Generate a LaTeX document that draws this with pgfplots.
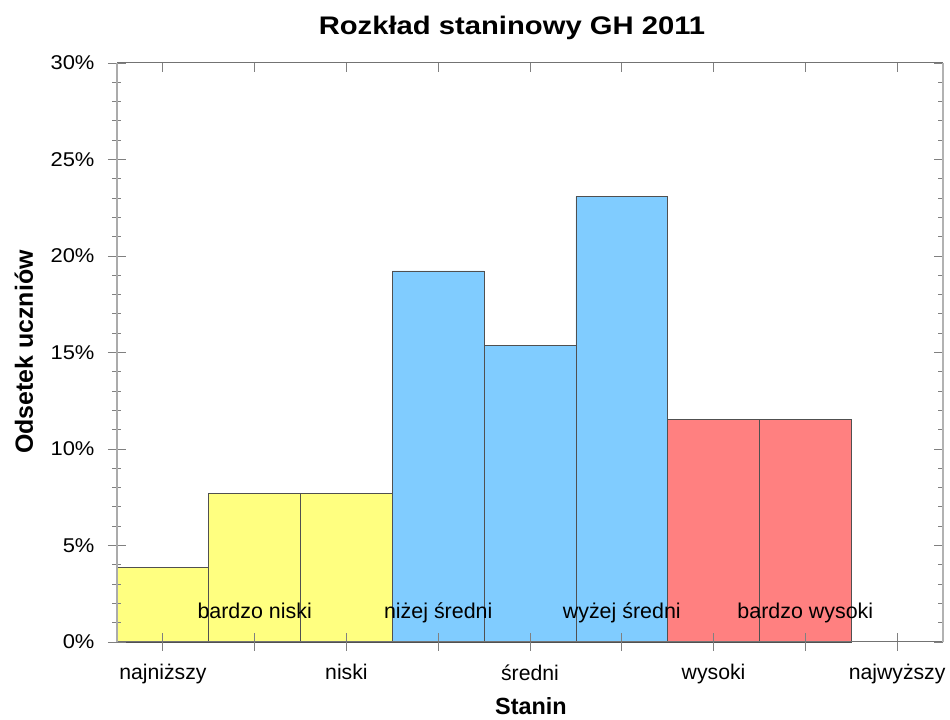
\documentclass[border=0pt]{standalone}
\usepackage{fontspec}
\setmainfont{Liberation Sans}
\newfontfamily\widefont{Liberation Sans}[FakeStretch=1.15]
\newfontfamily\tickfont{Liberation Sans}[FakeStretch=1.1]
\usepackage{pgfplots}
\pgfplotsset{compat=1.18}
\definecolor{cyel}{HTML}{FFFF80}
\definecolor{cblu}{HTML}{80CCFF}
\definecolor{cred}{HTML}{FF8080}
\definecolor{edge}{HTML}{505050}
\begin{document}
\begin{tikzpicture}[x=1bp,y=1bp]
\path[use as bounding box] (-117,-78) rectangle (833,642);
\begin{axis}[
  at={(0,0)}, anchor=south west, scale only axis,
  width=826bp, height=579bp,
  xmin=0.5, xmax=9.5, ymin=0, ymax=30,
  axis x line*=bottom, axis y line*=left,
  axis line style={-},
  x axis line style={draw=black!55, line width=1bp},
  y axis line style={draw=black!33, line width=2bp},
  tick align=center,
  major tick length=18bp, minor tick length=9bp,
  tick style={draw=black!50, line width=0.8bp},
  xtick={1,...,9},
  xticklabels={najniższy,{},niski,{},średni,{},wysoki,{},najwyższy},
  ytick={0,5,...,30},
  yticklabels={0\%,5\%,10\%,15\%,20\%,25\%,30\%},
  minor y tick num=4,
  xticklabel style={font=\fontsize{21.3}{24}\selectfont, yshift=-10bp},
  yticklabel style={font=\tickfont\fontsize{20}{24}\selectfont, xshift=-10bp},
  axis on top,
  clip=false,
]
\addplot[ybar, bar width=1, bar shift=0, fill=cyel, draw=edge, line width=0.7bp]
  coordinates {(1,3.85) (2,7.69) (3,7.69)};
\addplot[ybar, bar width=1, bar shift=0, fill=cblu, draw=edge, line width=0.7bp]
  coordinates {(4,19.23) (5,15.38) (6,23.08)};
\addplot[ybar, bar width=1, bar shift=0, fill=cred, draw=edge, line width=0.7bp]
  coordinates {(7,11.54) (8,11.54)};
\node[anchor=base, font=\fontsize{21.5}{24}\selectfont] at (axis cs:2,1.24) {bardzo niski};
\node[anchor=base, font=\fontsize{21.5}{24}\selectfont] at (axis cs:4,1.24) {niżej średni};
\node[anchor=base, font=\fontsize{21.5}{24}\selectfont] at (axis cs:6,1.24) {wyżej średni};
\node[anchor=base, font=\fontsize{21.5}{24}\selectfont] at (axis cs:8,1.24) {bardzo wysoki};
\end{axis}
\begin{axis}[
  at={(0,0)}, anchor=south west, scale only axis,
  width=826bp, height=579bp,
  xmin=0.5, xmax=9.5, ymin=0, ymax=30,
  axis x line*=top, axis y line*=right,
  axis line style={-},
  x axis line style={draw=black!55, line width=1bp},
  y axis line style={draw=black!30, line width=2bp},
  tick align=inside,
  major tick length=9bp, minor tick length=5bp,
  tick style={draw=black!50, line width=0.8bp},
  xtick={1,...,9}, ytick={0,5,...,30}, minor y tick num=4,
  xticklabels={}, yticklabels={},
]
\end{axis}
\node[anchor=base, font=\widefont\bfseries\fontsize{25.5}{28}\selectfont] at (395,607) {Rozkład staninowy GH 2011};
\node[anchor=base, rotate=90, font=\bfseries\fontsize{25}{28}\selectfont] at (-84,290) {Odsetek uczniów};
\node[anchor=base, font=\bfseries\fontsize{23.5}{28}\selectfont] at (414,-73) {Stanin};
\end{tikzpicture}
\end{document}
